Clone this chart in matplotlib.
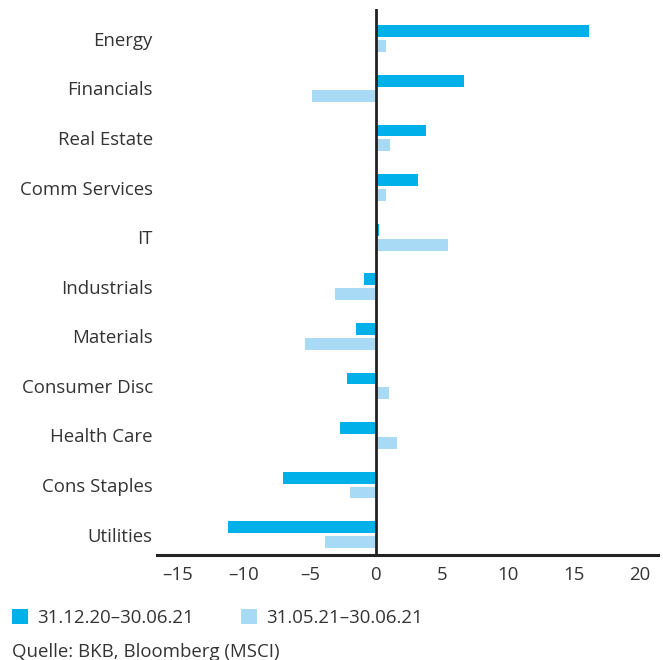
import matplotlib
matplotlib.use("Agg")
import matplotlib.pyplot as plt
import numpy as np

categories = ["Energy", "Financials", "Real Estate", "Comm Services", "IT",
              "Industrials", "Materials", "Consumer Disc", "Health Care",
              "Cons Staples", "Utilities"]
ytd = [16.2, 6.7, 3.8, 3.2, 0.25, -0.9, -1.5, -2.2, -2.7, -7.05, -11.2]
mtd = [0.8, -4.85, 1.1, 0.8, 5.5, -3.1, -5.4, 1.0, 1.6, -1.97, -3.86]
series_labels = ["31.12.20–30.06.21", "31.05.21–30.06.21"]
xticks = [-15, -10, -5, 0, 5, 10, 15, 20]

dark = "#00B0E9"
light = "#A8DAF5"
txt = "#333333"
fs = 13.4

plt.rcParams['font.family'] = ['Open Sans', 'DejaVu Sans']

fig = plt.figure(figsize=(6.63, 6.60), dpi=100)
ax = fig.add_axes([157/663, 1-555/660, (658-157)/663, (555-9)/660])

y = np.arange(len(categories))
h = 0.24
ax.barh(y - 0.15, ytd, height=h, color=dark, label=series_labels[0], zorder=2)
ax.barh(y + 0.15, mtd, height=h, color=light, label=series_labels[1], zorder=2)

ax.set_ylim(10.41, -0.6)
ax.set_xlim(-16.6, 21.4)
ax.axvline(0, color="#222222", lw=2.0, zorder=3)

for s in ["top", "right", "left"]:
    ax.spines[s].set_visible(False)
ax.spines["bottom"].set_color("#222222")
ax.spines["bottom"].set_linewidth(2.2)

ax.set_yticks(y)
ax.set_yticklabels(categories, fontsize=fs, color=txt)
ax.tick_params(axis="y", length=0, pad=3)
ax.set_xticks(xticks)
ax.set_xticklabels([str(t).replace("-", "–") for t in xticks], fontsize=fs, color=txt)
ax.tick_params(axis="x", length=0, pad=8)

handles, labels = ax.get_legend_handles_labels()
fig.legend(handles, labels, loc="center left", bbox_to_anchor=(12/663, 1-618/660),
           ncol=2, frameon=False, fontsize=fs, handlelength=0.86, handleheight=0.86,
           handletextpad=0.5, columnspacing=2.5, labelcolor=txt, borderaxespad=0,
           borderpad=0)

fig.text(12/663, 1-652/660, "Quelle: BKB, Bloomberg (MSCI)", fontsize=fs, color=txt, va="center")

fig.savefig("out.png", dpi=100)
